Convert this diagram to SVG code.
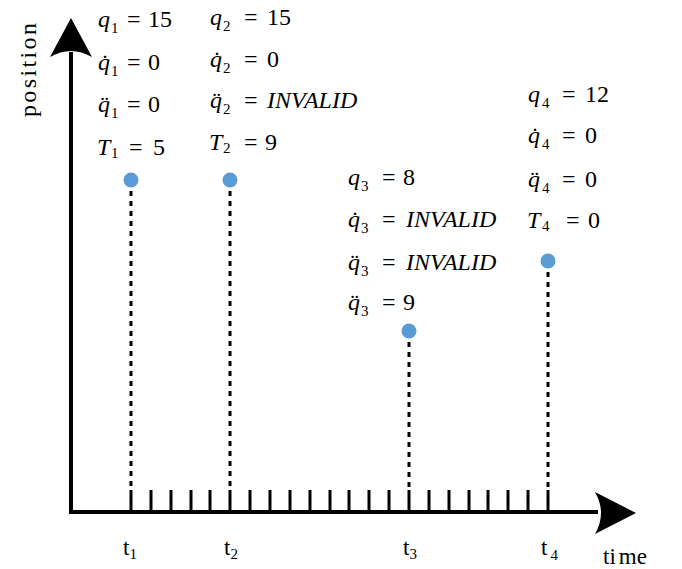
<svg xmlns="http://www.w3.org/2000/svg" width="682" height="569" viewBox="0 0 682 569">
<style>
text{font-family:"Liberation Serif","Times New Roman",serif;fill:#000;}
.m{font-size:24px;}
.i{font-style:italic;}
.s{font-size:15px;}
.tl{font-size:23px;}
.ts{font-size:15px;}
.dot{fill:#5B9BD5;}
.axis{fill:none;stroke:#000;stroke-width:4;}
.tick{fill:none;stroke:#000;stroke-width:3;}
.dash{fill:none;stroke:#000;stroke-width:3;stroke-dasharray:5 5;}
</style>
<rect width="682" height="569" fill="#fff"/>
<g id="axes">
<path class="axis" d="M71,52 V512 H598"/>
<path d="M71,18 L92,57 Q71,45 50,57 Z" fill="#000"/>
<path d="M636,513 L595,492 Q607,513 595,534 Z" fill="#000"/>
<path class="tick" d="M131,490V512M151,490V512M171,490V512M191,490V512M210,490V512M230,490V512M250,490V512M270,490V512M290,490V512M310,490V512M330,490V512M349,490V512M369,490V512M389,490V512M409,490V512M429,490V512M449,490V512M469,490V512M488,490V512M508,490V512M528,490V512M548,490V512"/>
<text class="m" transform="translate(36,117) rotate(-90)" textLength="94" lengthAdjust="spacing">position</text>
<text class="tl" x="603" y="564">ti<tspan dx="3">me</tspan></text>
<text class="tl" x="123" y="555">t<tspan class="ts" dy="4">1</tspan></text>
<text class="tl" x="224" y="555">t<tspan class="ts" dy="4">2</tspan></text>
<text class="tl" x="403" y="555">t<tspan class="ts" dy="4">3</tspan></text>
<text class="tl" x="541" y="555">t<tspan class="ts" dx="3" dy="5">4</tspan></text>
</g>
<g id="connectors">
<path class="dash" d="M131,191V490"/>
<path class="dash" d="M230,191V490"/>
<path class="dash" d="M409,342V490"/>
<path class="dash" d="M548,272V490"/>
</g>
<g id="point1">
<circle class="dot" cx="131" cy="180" r="7.5"/>
<text class="m i" x="98" y="27">q</text><text class="s" x="111" y="33">1</text><text class="m" x="127" y="27">=</text><text class="m" x="148" y="27">15</text>
<text class="m i" x="98" y="70">q&#x307;</text><text class="s" x="111" y="76">1</text><text class="m" x="127" y="70">=</text><text class="m" x="148" y="70">0</text>
<text class="m i" x="98" y="112">q&#x308;</text><text class="s" x="111" y="118">1</text><text class="m" x="127" y="112">=</text><text class="m" x="148" y="112">0</text>
<text class="m i" x="97" y="155">T</text><text class="s" x="111" y="158">1</text><text class="m" x="129" y="155">=</text><text class="m" x="153" y="155">5</text>
</g>
<g id="point2">
<circle class="dot" cx="230" cy="180" r="7.5"/>
<text class="m i" x="210" y="25">q</text><text class="s" x="223" y="31">2</text><text class="m" x="244" y="25">=</text><text class="m" x="267" y="25">15</text>
<text class="m i" x="210" y="67">q&#x307;</text><text class="s" x="223" y="73">2</text><text class="m" x="244" y="67">=</text><text class="m" x="267" y="67">0</text>
<text class="m i" x="210" y="108">q&#x308;</text><text class="s" x="223" y="114">2</text><text class="m" x="244" y="108">=</text><text class="m i" x="267" y="108">INVALID</text>
<text class="m i" x="209" y="150">T</text><text class="s" x="223" y="153">2</text><text class="m" x="244" y="150">=</text><text class="m" x="265" y="150">9</text>
</g>
<g id="point3">
<circle class="dot" cx="409" cy="331" r="7.5"/>
<text class="m i" x="348" y="185">q</text><text class="s" x="361" y="191">3</text><text class="m" x="382" y="185">=</text><text class="m" x="403" y="185">8</text>
<text class="m i" x="348" y="227">q&#x307;</text><text class="s" x="361" y="233">3</text><text class="m" x="382" y="227">=</text><text class="m i" x="406" y="227">INVALID</text>
<text class="m i" x="348" y="270">q&#x308;</text><text class="s" x="361" y="276">3</text><text class="m" x="382" y="270">=</text><text class="m i" x="406" y="270">INVALID</text>
<text class="m i" x="348" y="310">q&#x308;</text><text class="s" x="361" y="316">3</text><text class="m" x="382" y="310">=</text><text class="m" x="403" y="310">9</text>
</g>
<g id="point4">
<circle class="dot" cx="548" cy="261" r="7.5"/>
<text class="m i" x="528" y="102">q</text><text class="s" x="542" y="108">4</text><text class="m" x="562" y="102">=</text><text class="m" x="585" y="102">12</text>
<text class="m i" x="528" y="143">q&#x307;</text><text class="s" x="542" y="149">4</text><text class="m" x="562" y="143">=</text><text class="m" x="585" y="143">0</text>
<text class="m i" x="528" y="187">q&#x308;</text><text class="s" x="542" y="193">4</text><text class="m" x="562" y="187">=</text><text class="m" x="585" y="187">0</text>
<text class="m i" x="527" y="228">T</text><text class="s" x="542" y="231">4</text><text class="m" x="566" y="228">=</text><text class="m" x="588" y="228">0</text>
</g>
</svg>
